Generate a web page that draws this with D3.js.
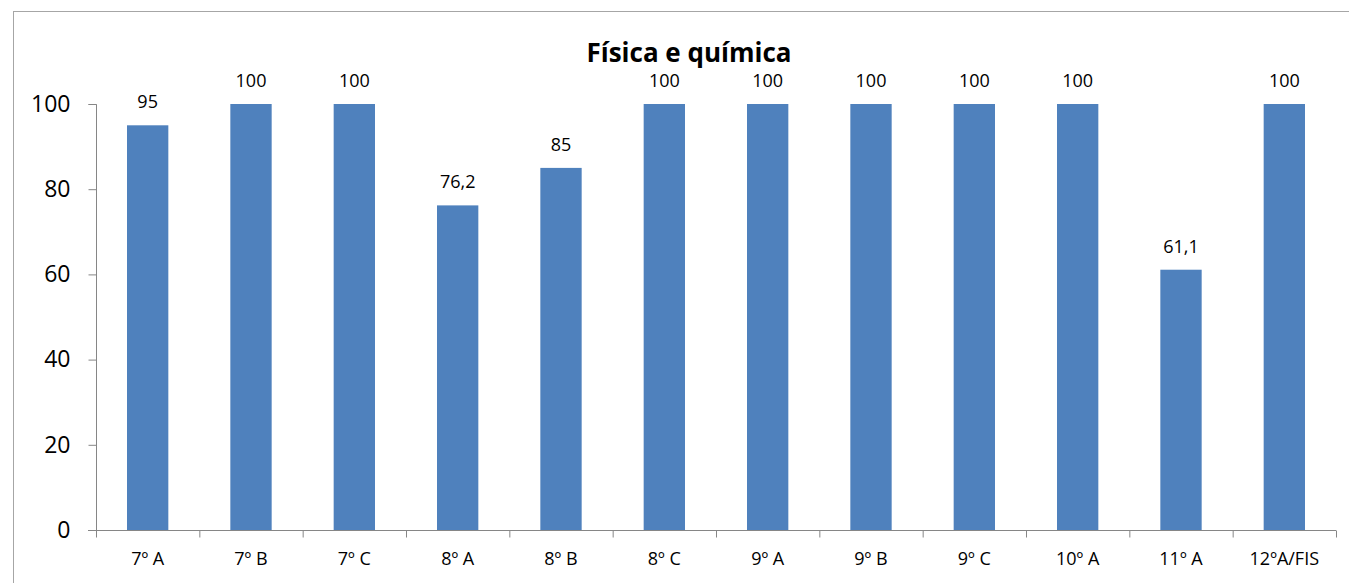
<!DOCTYPE html>
<html>
<head>
<meta charset="utf-8">
<script src="https://cdn.jsdelivr.net/npm/d3@7"></script>
<style>
  body { margin: 0; background: #fff; }
</style>
</head>
<body>
<div id="chart"></div>
<script>
var categories = ["7º A", "7º B", "7º C", "8º A", "8º B", "8º C", "9º A", "9º B", "9º C", "10º A", "11º A", "12ºA/FIS"];
var values = [95, 100, 100, 76.2, 85, 100, 100, 100, 100, 100, 61.1, 100];
var yTicks = [0, 20, 40, 60, 80, 100];

const WIDTH = 1349;
const HEIGHT = 583;
const FONT = "'Open Sans', 'Noto Sans', sans-serif";

var svg = d3.select("#chart")
    .append("svg")
    .attr("width", WIDTH)
    .attr("height", HEIGHT);

// chart frame (runs off the right and bottom edges)
svg.append("rect")
    .attr("x", 13.5)
    .attr("y", 11.5)
    .attr("width", WIDTH)
    .attr("height", HEIGHT)
    .attr("fill", "none")
    .attr("stroke", "#a6a6a6")
    .attr("stroke-width", 1);

var xScale = d3.scaleBand().domain(categories).range([96, 1336]).paddingInner(0.6).paddingOuter(0.3),
    xCat = d3.scaleBand().domain(categories).range([96, 1336]),
    yScale = d3.scaleLinear().domain([0, 100]).range([530, 104]);

// Title
svg.append("text")
    .attr("x", 689)
    .attr("y", 62)
    .attr("text-anchor", "middle")
    .style("font-family", FONT)
    .style("font-weight", "bold")
    .style("font-size", "26px")
    .text("Física e química");

// bars
svg.append("g")
    .selectAll("rect")
    .data(values)
    .enter()
    .append("rect")
    .attr("x", function (d, i) { return xScale(categories[i]); })
    .attr("y", function (d) { return yScale(d); })
    .attr("width", xScale.bandwidth())
    .attr("height", function (d) { return yScale(0) - yScale(d); })
    .attr("fill", "#4f81bd");

// value labels
svg.append("g")
    .selectAll("text")
    .data(values)
    .enter()
    .append("text")
    .attr("x", function (d, i) { return xScale(categories[i]) + xScale.bandwidth() / 2; })
    .attr("y", function (d) { return yScale(d) - 17; })
    .attr("text-anchor", "middle")
    .style("font-family", FONT)
    .style("font-size", "18px")
    .text(function (d) { return String(d).replace(".", ","); });

// y axis
var yAxis = svg.append("g")
    .attr("transform", "translate(96.5,0)")
    .call(d3.axisLeft(yScale).tickValues(yTicks).tickSize(8).tickPadding(18));
yAxis.select(".domain").attr("stroke", "#868686").attr("d", "M-8," + (yScale(100) + 0.5) + "H0V" + (yScale(0) + 0.5));
yAxis.selectAll(".tick line").attr("stroke", "#868686");
yAxis.selectAll(".tick text")
    .style("font-family", FONT)
    .style("font-size", "23px")
    .attr("fill", "#000");

// x axis: ticks at category boundaries
var xAxis = svg.append("g")
    .attr("transform", "translate(0," + (yScale(0) + 0.5) + ")");
xAxis.append("line")
    .attr("x1", 88).attr("x2", 1336)
    .attr("stroke", "#868686");
xAxis.selectAll(".bnd")
    .data(categories.concat([null]))
    .enter()
    .append("line")
    .attr("class", "bnd")
    .attr("x1", function (d, i) { return (i < categories.length ? xCat(d) : xCat.range()[1]) + 0.5; })
    .attr("x2", function (d, i) { return (i < categories.length ? xCat(d) : xCat.range()[1]) + 0.5; })
    .attr("y1", 0).attr("y2", 7)
    .attr("stroke", "#868686");
xAxis.selectAll(".lbl")
    .data(categories)
    .enter()
    .append("text")
    .attr("class", "lbl")
    .attr("x", function (d) { return xCat(d) + xCat.bandwidth() / 2; })
    .attr("y", 34)
    .attr("text-anchor", "middle")
    .style("font-family", FONT)
    .style("font-size", "18px")
    .text(function (d) { return d; });
</script>
</body>
</html>
